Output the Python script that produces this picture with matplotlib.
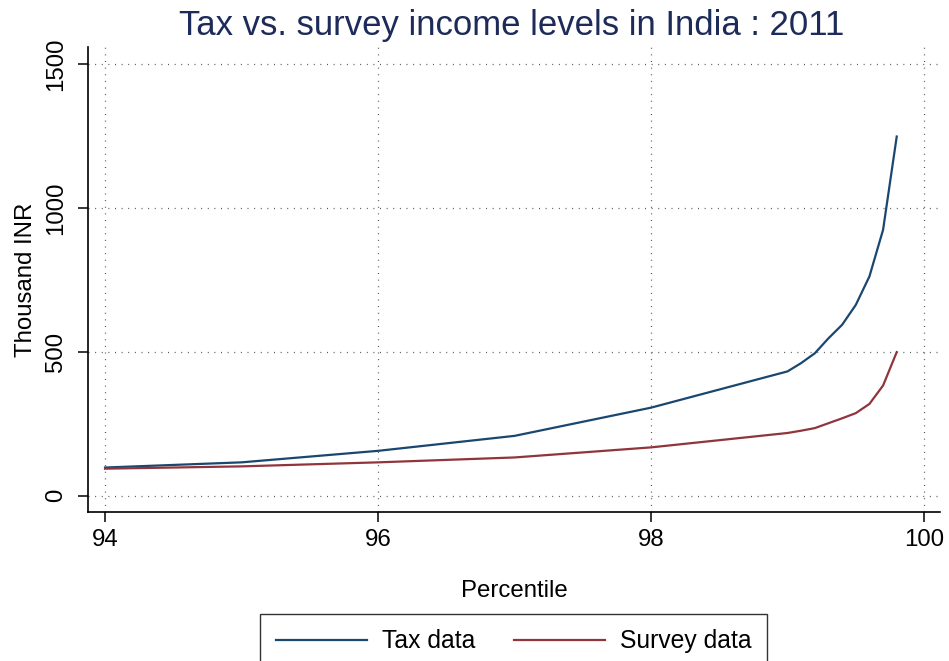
import matplotlib
matplotlib.use("Agg")
import matplotlib.pyplot as plt

# values
percentile = [94, 95, 96, 97, 98, 99, 99.1, 99.2, 99.3, 99.4, 99.5, 99.6, 99.7, 99.8]
tax_data = [98, 116, 156, 208, 306, 432, 461, 495, 547, 594, 663, 762, 924, 1248]
survey_data = [94, 102, 116, 133, 168, 218, 226, 235, 252, 269, 287, 319, 383, 499]

x_ticks = [94, 96, 98, 100]
y_ticks = [0, 500, 1000, 1500]

navy = "#1a476f"
maroon = "#90353b"

plt.rcParams["font.family"] = ["Liberation Sans", "DejaVu Sans"]

W, H = 949, 661
fig = plt.figure(figsize=(W / 100, H / 100), dpi=100)
fig.patch.set_facecolor("white")

# axes box in pixels: left 88, right 940, top 47, bottom 512
ax = fig.add_axes([88 / W, 1 - 512 / H, (940 - 88) / W, (512 - 47) / H])

l1, = ax.plot(percentile, tax_data, color=navy, lw=1.6, label="Tax data")
l2, = ax.plot(percentile, survey_data, color=maroon, lw=1.6, label="Survey data")

ax.set_xlim(93.875, 100.117)
ax.set_ylim(-56.5, 1559)
ax.set_xticks(x_ticks)
ax.set_yticks(y_ticks)

ax.grid(True, linestyle=(0, (0.8, 4.5)), color="#555555", lw=0.9)
ax.set_axisbelow(True)

for side in ["top", "right"]:
    ax.spines[side].set_visible(False)
for side in ["left", "bottom"]:
    ax.spines[side].set_linewidth(1.2)
    ax.spines[side].set_color("black")

ax.tick_params(axis="both", direction="out", length=7, width=1.1,
               labelsize=17.3, color="black")
ax.tick_params(axis="x", pad=5)
ax.tick_params(axis="y", pad=8)
plt.setp(ax.get_yticklabels(), rotation=90, va="center")

ax.set_xlabel("Percentile", fontsize=17.3, labelpad=21)
ax.set_ylabel("Thousand INR", fontsize=17.3, labelpad=6)

fig.text(512 / W, 1 - 25 / H, "Tax vs. survey income levels in India : 2011",
         ha="center", va="center", fontsize=25, color="#1c2b59")

leg = fig.legend(handles=[l1, l2], loc="upper center",
                 bbox_to_anchor=(513.5 / W, 1 - 614 / H), ncol=2,
                 fontsize=17.8, frameon=True, fancybox=False,
                 edgecolor="black", handlelength=3.7, handletextpad=0.6,
                 columnspacing=1.55, borderpad=0.62, borderaxespad=0)
leg.get_frame().set_linewidth(1.0)

fig.savefig("out.png", dpi=100, facecolor="white")
